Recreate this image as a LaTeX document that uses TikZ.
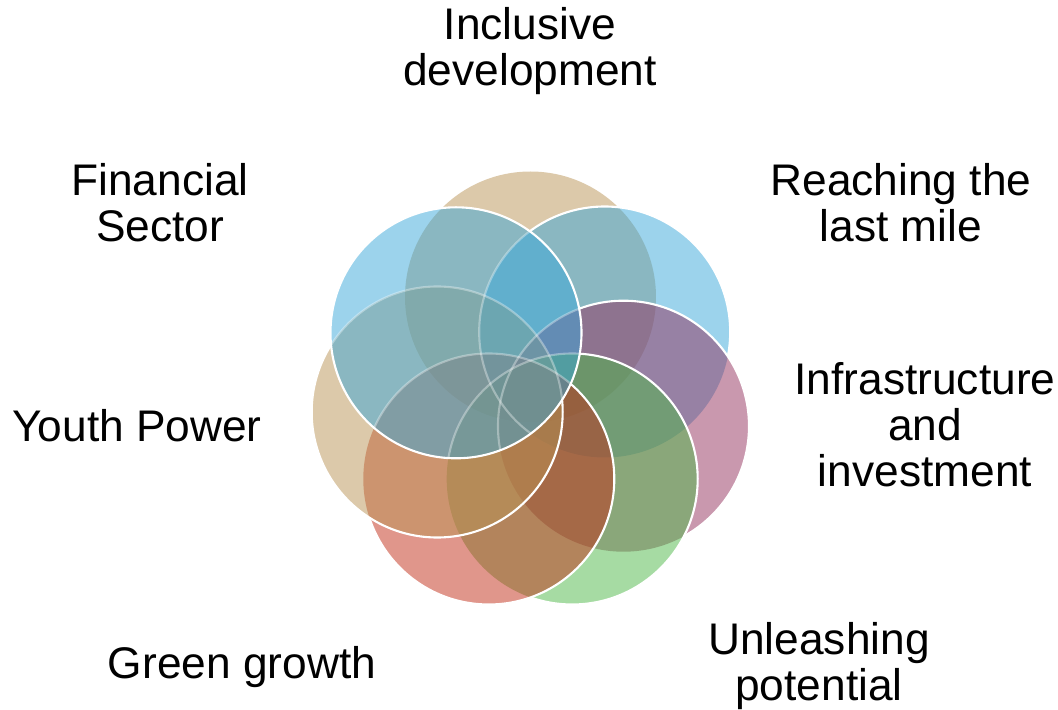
\documentclass[tikz,border=0pt]{standalone}
\usepackage{fontspec}
\setmainfont{Liberation Sans}
\usetikzlibrary{positioning}

\definecolor{venntan}{HTML}{B99355}
\definecolor{vennblue}{HTML}{39A7D9}
\definecolor{vennplum}{HTML}{93315D}
\definecolor{venngreen}{HTML}{4DB747}
\definecolor{vennred}{HTML}{C12D17}
\newcommand{\vennr}{1.255}

\begin{document}
\begin{tikzpicture}[
    ring/.style={fill opacity=0.5},
    rim/.style={draw=white, line width=0.6pt},
    outside/.style={clip, insert path={(-1,-8) rectangle (12,1)}},
    label/.style={align=center, anchor=base, inner sep=0pt,
        font=\fontsize{12.6}{13.2}\selectfont}]
    \useasboundingbox (0,0) rectangle (10.58,-7.10);

    % Circle centres
    \coordinate (incl)    at (5.305,-2.97);
    \coordinate (reach)   at (6.047,-3.32);
    \coordinate (infra)   at (6.235,-4.262);
    \coordinate (unl)     at (5.722,-4.79);
    \coordinate (green)   at (4.888,-4.79);
    \coordinate (youth)   at (4.372,-4.12);
    \coordinate (fin)     at (4.56,-3.328);

    % Fills, first to last
    \fill[ring, venntan]   (incl)  circle (\vennr);
    \fill[ring, vennblue]  (reach) circle (\vennr);
    \fill[ring, vennplum]  (infra) circle (\vennr);
    \fill[ring, venngreen] (unl)   circle (\vennr);
    \fill[ring, vennred]   (green) circle (\vennr);
    \fill[ring, venntan]   (youth) circle (\vennr);
    \fill[ring, vennblue]  (fin)   circle (\vennr);

    % White rims, hidden under the circles that come later
    \begin{scope}
        \path[outside] (infra) circle (\vennr);
        \path[outside] (unl) circle (\vennr);
        \path[outside] (green) circle (\vennr);
        \path[outside] (youth) circle (\vennr);
        \path[outside] (fin) circle (\vennr);
        \draw[rim] (reach) circle (\vennr);
    \end{scope}
    \begin{scope}
        \path[outside] (unl) circle (\vennr);
        \path[outside] (green) circle (\vennr);
        \path[outside] (youth) circle (\vennr);
        \path[outside] (fin) circle (\vennr);
        \draw[rim] (infra) circle (\vennr);
    \end{scope}
    \begin{scope}
        \path[outside] (green) circle (\vennr);
        \path[outside] (youth) circle (\vennr);
        \path[outside] (fin) circle (\vennr);
        \draw[rim] (unl) circle (\vennr);
    \end{scope}
    \begin{scope}
        \path[outside] (youth) circle (\vennr);
        \path[outside] (fin) circle (\vennr);
        \draw[rim] (green) circle (\vennr);
    \end{scope}
    \begin{scope}
        \path[outside] (fin) circle (\vennr);
        \draw[rim] (youth) circle (\vennr);
    \end{scope}
    % faint rims showing through the last circle
    \begin{scope}
        \clip (fin) circle (\vennr);
        \foreach \c in {reach,infra,unl,green,youth}
            \draw[rim, draw opacity=0.35] (\c) circle (\vennr);
    \end{scope}
    \draw[rim] (fin) circle (\vennr);

    % Labels (placed by the baseline of their last line)
    \node[label] (lincl)  at (5.30,-0.855) {Inclusive\\development};
    \node[label] (lreach) at (9.01,-2.42) {Reaching the\\last mile};
    \node[label] (linfra) at (9.25,-4.87) {Infrastructure\\and\\investment};
    \node[label] (lunl)   at (8.19,-7.01) {Unleashing\\potential};
    \node[label] (lgreen) at (2.42,-6.79) {Green growth};
    \node[label] (lyouth) at (1.37,-4.42) {Youth Power};
    \node[label] (lfin)   at (1.60,-2.42) {Financial\\Sector};
\end{tikzpicture}
\end{document}
